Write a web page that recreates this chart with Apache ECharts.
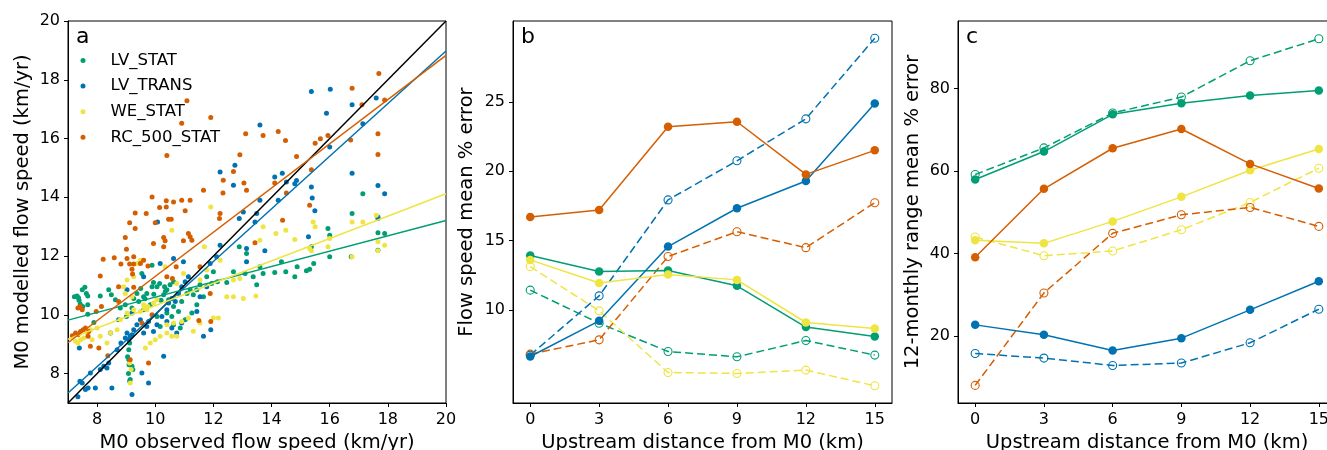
<!DOCTYPE html>
<html>
<head>
<meta charset="utf-8">
<script src="https://cdn.jsdelivr.net/npm/echarts@6.0.0/dist/echarts.min.js"></script>
<style>
	html, body { margin: 0; padding: 0; background: #fff; }
	#main { width: 1327px; height: 450px; }
</style>
</head>
<body>
<div id="main"></div>
<script>
	// panel a: modelled vs observed flow speed (km/yr)
	var lvStat = [
		[7.22,10.62],[7.31,10.64],[7.36,10.58],[7.49,10.85],[7.58,10.94],[7.63,10.73],[7.68,10.64],[7.42,10.37],
		[7.51,10.28],[7.68,10.34],[7.38,10.5],[7.68,10.02],[8.11,10.64],[8.4,10.85],[8.49,10.68],[7.89,9.74],
		[9.01,9.94],[9.09,8.47],[9.09,8.81],[9.12,9.04],[9.2,8.25],[9.23,8.14],[9.14,7.8],[9.05,8.57],
		[9.1,8.3],[9.08,8.0],[9.12,7.75],[9.6,10.62],[9.71,10.73],[9.89,10.96],[9.94,11.1],[10.06,10.96],
		[10.15,11.07],[10.32,10.96],[10.4,10.85],[10.51,11.02],[10.63,11.13],[10.29,10.68],[10.46,10.51],[10.63,10.28],
		[10.8,10.11],[10.91,10.45],[11.09,10.73],[11.2,10.85],[11.31,10.68],[11.43,10.85],[11.54,11.02],[11.77,11.3],
		[12.0,11.47],[9.89,11.69],[9.54,11.41],[9.37,10.73],[9.43,10.45],[9.6,10.17],[9.83,10.34],[10.06,9.94],
		[10.17,9.6],[10.4,10.06],[10.57,9.94],[10.63,9.66],[10.86,9.55],[11.03,9.83],[11.26,10.06],[11.43,10.34],
		[11.66,10.62],[11.94,11.07],[12.14,11.13],[12.46,11.1],[12.69,11.47],[12.89,12.32],[13.14,12.09],[13.37,11.3],
		[13.49,11.02],[13.6,11.64],[13.71,11.41],[13.09,11.41],[14.11,11.44],[14.34,11.81],[14.49,11.47],[14.8,11.3],
		[14.88,11.64],[15.2,11.5],[15.31,11.55],[15.45,11.75],[15.37,12.32],[15.94,12.94],[16.0,12.71],[16.0,11.98],
		[16.74,11.98],[16.77,13.45],[17.14,14.12],[17.66,12.79],[17.66,12.2],[17.89,12.77],[17.66,13.33],[8.63,10.51],
		[8.8,10.23],[8.97,10.34],[9.2,10.23],[9.26,10.56],[9.5,10.9],[9.65,10.55],[9.95,10.7],[10.2,10.5],[10.35,10.8]
	];
	var lvTrans = [
		[7.34,7.21],[7.41,7.74],[7.49,7.68],[7.6,7.46],[7.69,7.51],[7.77,8.02],[7.94,7.51],[8.11,8.14],
		[8.23,8.25],[8.4,8.36],[8.34,8.19],[8.51,7.51],[8.69,8.81],[8.82,9.04],[8.97,9.21],[9.09,9.15],
		[9.14,9.27],[9.2,9.32],[9.03,9.38],[9.26,9.49],[9.37,9.66],[9.49,9.83],[9.54,8.02],[9.77,7.68],
		[9.2,7.29],[10.29,8.59],[9.6,9.38],[9.71,9.6],[9.77,9.77],[9.94,9.43],[10.06,9.66],[10.23,9.94],
		[10.4,10.17],[10.46,10.4],[10.57,10.56],[10.69,10.45],[10.8,10.73],[10.91,10.96],[11.03,11.13],[11.14,11.3],
		[10.4,9.77],[10.57,9.55],[10.74,9.38],[10.91,9.72],[11.43,10.11],[11.66,9.27],[11.91,9.49],[11.54,10.62],
		[11.77,10.96],[11.89,11.75],[12.11,11.98],[12.23,12.37],[12.23,14.86],[12.74,15.09],[12.69,14.41],[13.03,13.5],
		[12.89,13.28],[13.14,12.26],[13.14,11.81],[13.43,13.16],[13.49,13.45],[13.6,13.9],[13.6,16.46],[14.11,14.69],
		[14.37,14.82],[14.23,13.9],[14.51,14.52],[14.8,14.46],[14.86,14.57],[15.37,17.6],[15.89,16.86],[16.02,17.68],
		[15.37,14.35],[15.4,13.98],[15.49,13.54],[15.27,12.66],[16.0,15.71],[16.77,17.15],[17.14,16.5],[16.77,14.82],
		[17.6,17.38],[17.66,14.4],[17.89,14.12],[17.66,13.28],[13.77,12.18],[10.08,13.16],[10.17,11.75],[10.63,11.92],
		[10.97,11.81],[9.6,11.3],[9.03,10.85],[9.2,10.06],[8.74,9.83],[8.46,9.38],[7.39,8.87]
	];
	var weStat = [
		[7.26,9.1],[7.34,9.04],[7.43,9.15],[7.54,9.21],[7.66,9.38],[7.77,9.49],[8.0,9.55],[8.11,9.27],
		[8.34,9.04],[8.46,9.38],[8.69,9.49],[8.8,9.83],[9.03,10.06],[9.26,10.17],[9.49,10.11],[9.63,10.23],
		[9.71,10.17],[9.6,10.34],[9.75,10.28],[9.94,10.4],[10.06,10.51],[9.2,10.62],[8.97,10.73],[8.91,10.96],
		[9.03,11.19],[9.26,11.3],[9.37,11.75],[9.49,11.86],[9.66,8.87],[9.83,9.04],[10.0,9.15],[10.17,9.27],
		[10.4,9.38],[10.57,9.27],[10.74,9.27],[10.4,9.66],[10.63,9.72],[10.91,9.77],[11.14,9.89],[11.31,9.44],
		[11.54,9.72],[12.0,9.89],[12.17,9.89],[12.46,10.62],[12.69,10.62],[13.03,10.56],[13.46,10.64],[11.54,11.19],
		[11.77,11.53],[11.69,12.32],[11.91,13.67],[12.23,11.86],[12.69,11.19],[12.91,11.24],[13.6,12.54],[13.71,13.0],
		[14.15,12.77],[14.49,12.88],[14.8,12.56],[15.31,12.26],[15.37,12.18],[15.43,13.16],[15.5,13.0],[16.0,12.6],
		[15.94,12.32],[16.77,13.16],[16.77,11.98],[17.14,13.16],[17.6,13.39],[17.66,12.49],[17.66,12.18],[17.89,12.37],
		[9.12,8.36],[9.17,8.14],[9.14,7.68],[10.57,12.88],[10.34,11.64],[10.97,11.41],[10.74,11.07],[7.83,9.15]
	];
	var rc500Stat = [
		[17.69,18.21],[16.77,17.71],[17.11,17.15],[17.89,17.31],[11.09,17.29],[10.91,16.52],[11.91,16.72],[13.11,16.16],
		[13.71,16.1],[14.23,16.24],[14.48,15.93],[10.4,15.42],[17.66,16.16],[17.66,15.46],[15.94,16.1],[15.68,15.99],
		[15.5,15.84],[16.72,15.95],[12.91,15.45],[14.86,15.39],[15.37,14.94],[12.69,14.88],[12.34,14.58],[13.05,14.49],
		[13.14,14.24],[11.66,14.24],[14.11,14.49],[14.51,14.15],[15.31,13.73],[12.33,14.15],[9.89,14.01],[10.38,13.88],
		[10.91,13.9],[10.63,13.84],[11.2,13.9],[10.15,13.65],[10.38,13.67],[11.03,13.54],[9.31,13.47],[9.69,13.45],
		[10.46,13.25],[10.55,13.25],[9.12,13.13],[9.31,12.94],[10.0,13.13],[12.23,13.45],[12.21,13.28],[8.97,12.63],
		[10.29,12.63],[11.14,12.77],[11.2,12.66],[10.97,12.52],[11.26,12.54],[10.34,12.52],[9.94,12.43],[10.29,12.32],
		[13.43,12.45],[14.38,13.22],[8.59,11.94],[8.21,11.89],[9.01,12.23],[9.03,11.92],[9.26,11.98],[8.82,11.73],
		[9.12,11.73],[9.2,11.55],[9.26,11.73],[8.11,11.32],[9.22,11.39],[9.49,11.75],[9.6,11.86],[9.75,11.66],
		[11.54,11.64],[10.72,11.64],[10.4,11.3],[10.59,11.24],[11.89,10.73],[8.74,10.96],[9.26,10.94],[8.74,10.45],
		[7.41,10.28],[7.34,10.23],[7.49,10.17],[7.97,10.11],[8.15,10.28],[7.26,9.38],[7.34,9.32],[7.43,9.43],
		[7.52,9.49],[7.6,9.55],[7.15,9.29],[7.71,9.43],[7.69,9.27],[7.77,8.93],[8.06,8.87],[8.37,8.61],
		[9.14,8.47],[9.77,8.36],[9.54,9.72],[11.5,9.81],[11.91,9.77],[9.89,10.0]
	];
	// fitted lines, end points at x = 7 and x = 20
	var fitLvStat = [[7, 9.82], [20, 13.21]];
	var fitLvTrans = [[7, 7.34], [20, 18.98]];
	var fitWeStat = [[7, 9.17], [20, 14.12]];
	var fitRc500Stat = [[7, 9.05], [20, 18.83]];
	var oneToOne = [[7, 7], [20, 20]];
	var speedTicks = [8, 10, 12, 14, 16, 18, 20];

	// panels b and c: error against upstream distance (km)
	var distances = [0, 3, 6, 9, 12, 15];
	var bGreen = [13.93, 12.78, 12.85, 11.75, 8.78, 8.1];
	var bGreenDash = [11.44, 9.06, 7.02, 6.64, 7.81, 6.76];
	var bBlue = [6.66, 9.23, 14.58, 17.34, 19.3, 24.89];
	var bBlueDash = [6.76, 11.03, 17.94, 20.76, 23.78, 29.59];
	var bYellow = [13.62, 11.96, 12.56, 12.18, 9.11, 8.68];
	var bYellowDash = [13.14, 9.95, 5.51, 5.44, 5.68, 4.55];
	var bOrange = [16.71, 17.22, 23.21, 23.57, 19.78, 21.51];
	var bOrangeDash = [6.83, 7.86, 13.86, 15.65, 14.5, 17.74];
	var bTicks = [10, 15, 20, 25];

	var cGreen = [57.94, 64.72, 73.75, 76.42, 78.35, 79.56];
	var cGreenDash = [59.15, 65.6, 74.07, 77.94, 86.75, 92.08];
	var cBlue = [22.66, 20.24, 16.44, 19.44, 26.3, 33.24];
	var cBlueDash = [15.71, 14.6, 12.81, 13.39, 18.31, 26.46];
	var cYellow = [43.17, 42.44, 47.77, 53.73, 60.19, 65.36];
	var cYellowDash = [43.97, 39.44, 40.58, 45.74, 52.37, 60.68];
	var cOrange = [39.05, 55.67, 65.52, 70.2, 61.72, 55.75];
	var cOrangeDash = [7.97, 30.41, 44.87, 49.37, 51.16, 46.56];
	var cTicks = [20, 40, 60, 80];

	var GREEN = '#009E73', BLUE = '#0072B2', YELLOW = '#F0E442', ORANGE = '#D55E00';
	var FONT = 'DejaVu Sans';

	function pairs(ys) {
		return distances.map(function (d, i) { return [d, ys[i]] })
	}

	function errLine(idx, ys, color, dashed) {
		return {
			type: 'line',
			xAxisIndex: idx,
			yAxisIndex: idx,
			data: pairs(ys),
			symbol: 'circle',
			symbolSize: dashed ? 8 : 8.5,
			showSymbol: true,
			lineStyle: { color: color, width: 1.5, type: dashed ? [8, 4] : 'solid' },
			itemStyle: dashed ? { color: 'rgba(0,0,0,0)', borderColor: color, borderWidth: 1.1 } : { color: color },
			emphasis: { disabled: true },
			z: dashed ? 2 : 3
		}
	}

	function fitLine(data, color) {
		return {
			type: 'line',
			xAxisIndex: 0,
			yAxisIndex: 0,
			data: data,
			showSymbol: false,
			symbol: 'none',
			lineStyle: { color: color, width: 1.5 },
			emphasis: { disabled: true },
			z: 4
		}
	}

	function dots(name, data, color) {
		return {
			name: name,
			type: 'scatter',
			xAxisIndex: 0,
			yAxisIndex: 0,
			data: data,
			symbolSize: 5,
			itemStyle: { color: color, opacity: 1 },
			emphasis: { disabled: true }
		}
	}

	var tickStyle = { show: true, length: 4, lineStyle: { color: '#000', width: 1 } };
	var labelStyle = { color: '#000', fontSize: 16, fontFamily: FONT };

	function xAxisFor(idx, min, max, ticks, name) {
		return {
			type: 'value',
			gridIndex: idx,
			min: min,
			max: max,
			name: name,
			nameLocation: 'middle',
			nameGap: 28,
			nameTextStyle: { color: '#000', fontSize: 19.5, fontFamily: FONT },
			axisLine: { show: true, onZero: false, lineStyle: { color: '#000', width: 1 } },
			axisTick: Object.assign({ customValues: ticks }, tickStyle),
			axisLabel: Object.assign({ customValues: ticks, margin: 9 }, labelStyle),
			splitLine: { show: false }
		}
	}

	function yAxisFor(idx, min, max, ticks, name, gap) {
		return {
			type: 'value',
			gridIndex: idx,
			min: min,
			max: max,
			name: name,
			nameLocation: 'middle',
			nameGap: gap,
			nameTextStyle: { color: '#000', fontSize: 19.5, fontFamily: FONT },
			axisLine: { show: true, onZero: false, lineStyle: { color: '#000', width: 1 } },
			axisTick: Object.assign({ customValues: ticks }, tickStyle),
			axisLabel: Object.assign({ customValues: ticks, margin: 8 }, labelStyle),
			splitLine: { show: false }
		}
	}

	// outerBoundsMode none: keep the grids where they are put, even when text or the panel runs off the page
	var gridBox = { show: true, borderColor: '#000', borderWidth: 1, top: 21, height: 382, outerBoundsMode: 'none' };

	var option = {
		animation: false,
		backgroundColor: '#fff',
		textStyle: { fontFamily: FONT },
		grid: [
			Object.assign({ left: 68, width: 378 }, gridBox),
			Object.assign({ left: 513, width: 379 }, gridBox),
			Object.assign({ left: 958, width: 378 }, gridBox)
		],
		xAxis: [
			xAxisFor(0, 7, 20, speedTicks, 'M0 observed flow speed (km/yr)'),
			xAxisFor(1, -0.75, 15.75, distances, 'Upstream distance from M0 (km)'),
			xAxisFor(2, -0.75, 15.75, distances, 'Upstream distance from M0 (km)')
		],
		yAxis: [
			yAxisFor(0, 7, 20, speedTicks, 'M0 modelled flow speed (km/yr)', 35),
			yAxisFor(1, 3.31, 30.83, bTicks, 'Flow speed mean % error', 36),
			yAxisFor(2, 3.7, 96.4, cTicks, '12-monthly range mean % error', 35)
		],
		legend: {
			left: 75.5,
			top: 47,
			orient: 'vertical',
			icon: 'circle',
			itemWidth: 5,
			itemHeight: 5,
			itemGap: 8.6,
			data: ['LV_STAT', 'LV_TRANS', 'WE_STAT', 'RC_500_STAT'],
			textStyle: { color: '#000', fontSize: 16.5, fontFamily: FONT, lineHeight: 17, padding: [0, 0, 0, 20] }
		},
		graphic: [
			{ type: 'text', left: 76, top: 26, style: { text: 'a', font: '22px "DejaVu Sans"', fill: '#000' } },
			{ type: 'text', left: 521, top: 26, style: { text: 'b', font: '22px "DejaVu Sans"', fill: '#000' } },
			{ type: 'text', left: 966, top: 26, style: { text: 'c', font: '22px "DejaVu Sans"', fill: '#000' } }
		],
		series: [
			dots('LV_STAT', lvStat, GREEN),
			dots('LV_TRANS', lvTrans, BLUE),
			dots('WE_STAT', weStat, YELLOW),
			dots('RC_500_STAT', rc500Stat, ORANGE),
			fitLine(oneToOne, '#000'),
			fitLine(fitLvStat, GREEN),
			fitLine(fitLvTrans, BLUE),
			fitLine(fitWeStat, YELLOW),
			fitLine(fitRc500Stat, ORANGE),

			errLine(1, bGreen, GREEN, false),
			errLine(1, bGreenDash, GREEN, true),
			errLine(1, bBlue, BLUE, false),
			errLine(1, bBlueDash, BLUE, true),
			errLine(1, bYellow, YELLOW, false),
			errLine(1, bYellowDash, YELLOW, true),
			errLine(1, bOrange, ORANGE, false),
			errLine(1, bOrangeDash, ORANGE, true),

			errLine(2, cGreen, GREEN, false),
			errLine(2, cGreenDash, GREEN, true),
			errLine(2, cBlue, BLUE, false),
			errLine(2, cBlueDash, BLUE, true),
			errLine(2, cYellow, YELLOW, false),
			errLine(2, cYellowDash, YELLOW, true),
			errLine(2, cOrange, ORANGE, false),
			errLine(2, cOrangeDash, ORANGE, true)
		]
	};

	var chart = echarts.init(document.getElementById('main'));
	chart.setOption(option);
</script>
</body>
</html>
